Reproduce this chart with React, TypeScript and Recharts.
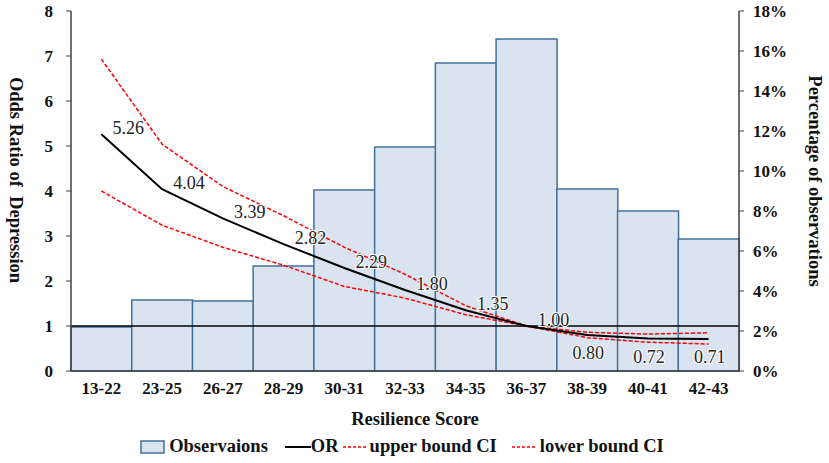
import { Bar, ComposedChart, LabelList, Legend, Line, ReferenceLine, XAxis, YAxis } from 'recharts'

const categories = ['13-22', '23-25', '26-27', '28-29', '30-31', '32-33', '34-35', '36-37', '38-39', '40-41', '42-43']
const observationPct = [2.2, 3.55, 3.5, 5.25, 9.05, 11.2, 15.4, 16.6, 9.1, 8.0, 6.6]
const oddsRatio = [5.26, 4.04, 3.39, 2.82, 2.29, 1.8, 1.35, 1.0, 0.8, 0.72, 0.71]
const upperCi = [6.93, 5.04, 4.1, 3.45, 2.75, 2.15, 1.45, 1.0, 0.86, 0.82, 0.85]
const lowerCi = [4.0, 3.24, 2.75, 2.35, 1.88, 1.62, 1.25, 1.0, 0.74, 0.64, 0.6]
const oddsTicks = [0, 1, 2, 3, 4, 5, 6, 7, 8]
const pctTicks = [0, 2, 4, 6, 8, 10, 12, 14, 16, 18]

const chartData = categories.map((score, i) => ({
  score,
  obs: observationPct[i],
  or: oddsRatio[i],
  upper: upperCi[i],
  lower: lowerCi[i],
}))

const serif = '"Liberation Serif", "Times New Roman", serif'
const axisColor = '#404040'
const tickStyle = { fontFamily: serif, fontSize: 17, fontWeight: 700, fill: '#111' }
const titleStyle = { fontFamily: serif, fontSize: 18.5, fontWeight: 700, fill: '#111' }

const renderOrLabel = (props: any) => {
  const { x, y, value, index } = props
  const below = index >= 8
  return (
    <text
      x={x + (below ? 1 : 27)}
      y={y + (below ? 18 : -6)}
      textAnchor="middle"
      dominantBaseline="central"
      fontFamily={serif}
      fontSize={18}
      fill="#222"
      stroke="#fff"
      strokeWidth={2}
      paintOrder="stroke"
    >
      {Number(value).toFixed(2)}
    </text>
  )
}

function LegendRow() {
  const text = { fontFamily: serif, fontSize: 18.5, fontWeight: 700, color: '#111' }
  return (
    <div style={{ display: 'flex', justifyContent: 'center', alignItems: 'center', width: 804, whiteSpace: 'nowrap', ...text }}>
      <svg width={25} height={16} style={{ marginRight: 4 }}>
        <rect x={1} y={2} width={23} height={12} fill="#dae3f0" stroke="#41719c" strokeWidth={1.5} />
      </svg>
      <span style={{ marginRight: 17 }}>Observaions</span>
      <svg width={26} height={16}>
        <line x1={0} y1={8} x2={26} y2={8} stroke="#000" strokeWidth={2} />
      </svg>
      <span style={{ marginRight: 4 }}>OR</span>
      <svg width={24} height={16} style={{ marginRight: 3 }}>
        <line x1={0} y1={8} x2={24} y2={8} stroke="#ff0000" strokeWidth={1.5} strokeDasharray="3 2" />
      </svg>
      <span style={{ marginRight: 15 }}>upper bound CI</span>
      <svg width={24} height={16} style={{ marginRight: 4 }}>
        <line x1={0} y1={8} x2={24} y2={8} stroke="#ff0000" strokeWidth={1.5} strokeDasharray="3 2" />
      </svg>
      <span>lower bound CI</span>
    </div>
  )
}

export default function App() {
  return (
    <div style={{ position: 'absolute', left: 0, top: 0, width: 829, height: 463, background: '#fff' }}>
      <ComposedChart
        width={829}
        height={463}
        data={chartData}
        margin={{ top: 11, right: 0, bottom: 0, left: 0 }}
        barCategoryGap={0}
      >
        <XAxis
          dataKey="score"
          height={92}
          tickLine={false}
          tickSize={0}
          tickMargin={11}
          tick={tickStyle}
          axisLine={{ stroke: axisColor, strokeWidth: 1.5 }}
          label={{
            content: (p: any) => (
              <text x={415} y={p.viewBox.y + 48} textAnchor="middle" dominantBaseline="central" {...titleStyle}>
                Resilience Score
              </text>
            ),
          }}
        />
        <YAxis
          yAxisId="or"
          width={71}
          domain={[0, 8]}
          ticks={oddsTicks}
          interval={0}
          tickSize={5}
          tickMargin={13}
          tick={tickStyle}
          tickLine={{ stroke: axisColor }}
          axisLine={{ stroke: axisColor, strokeWidth: 1.5 }}
          label={{
            content: () => (
              <text
                x={16}
                y={180}
                transform="rotate(90 16 180)"
                textAnchor="middle"
                dominantBaseline="central"
                style={{ whiteSpace: 'pre' }}
                {...titleStyle}
              >
                Odds Ratio of  Depression
              </text>
            ),
          }}
        />
        <YAxis
          yAxisId="pct"
          orientation="right"
          width={90}
          domain={[0, 18]}
          ticks={pctTicks}
          interval={0}
          tickSize={5}
          tickMargin={9}
          tick={tickStyle}
          tickFormatter={(v: number) => `${v}%`}
          tickLine={{ stroke: axisColor }}
          axisLine={{ stroke: axisColor, strokeWidth: 1.5 }}
          label={{
            content: () => (
              <text
                x={815}
                y={181}
                transform="rotate(90 815 181)"
                textAnchor="middle"
                dominantBaseline="central"
                {...titleStyle}
              >
                Percentage of observations
              </text>
            ),
          }}
        />
        <Legend
          layout="horizontal"
          verticalAlign="middle"
          content={() => <LegendRow />}
          wrapperStyle={{ position: 'absolute', left: 0, top: 436, width: 804, height: 24 }}
        />
        <Bar
          yAxisId="pct"
          dataKey="obs"
          fill="#dae3f0"
          stroke="#41719c"
          strokeWidth={1.5}
          isAnimationActive={false}
        />
        <ReferenceLine yAxisId="or" y={1} stroke="#000" strokeWidth={1.5} />
        <Line
          yAxisId="or"
          dataKey="upper"
          type="linear"
          stroke="#ff0000"
          strokeWidth={1.5}
          strokeDasharray="4 2"
          dot={false}
          isAnimationActive={false}
        />
        <Line
          yAxisId="or"
          dataKey="lower"
          type="linear"
          stroke="#ff0000"
          strokeWidth={1.5}
          strokeDasharray="4 2"
          dot={false}
          isAnimationActive={false}
        />
        <Line
          yAxisId="or"
          dataKey="or"
          type="linear"
          stroke="#000"
          strokeWidth={2}
          dot={false}
          isAnimationActive={false}
        >
          <LabelList dataKey="or" content={renderOrLabel} />
        </Line>
      </ComposedChart>
    </div>
  )
}
